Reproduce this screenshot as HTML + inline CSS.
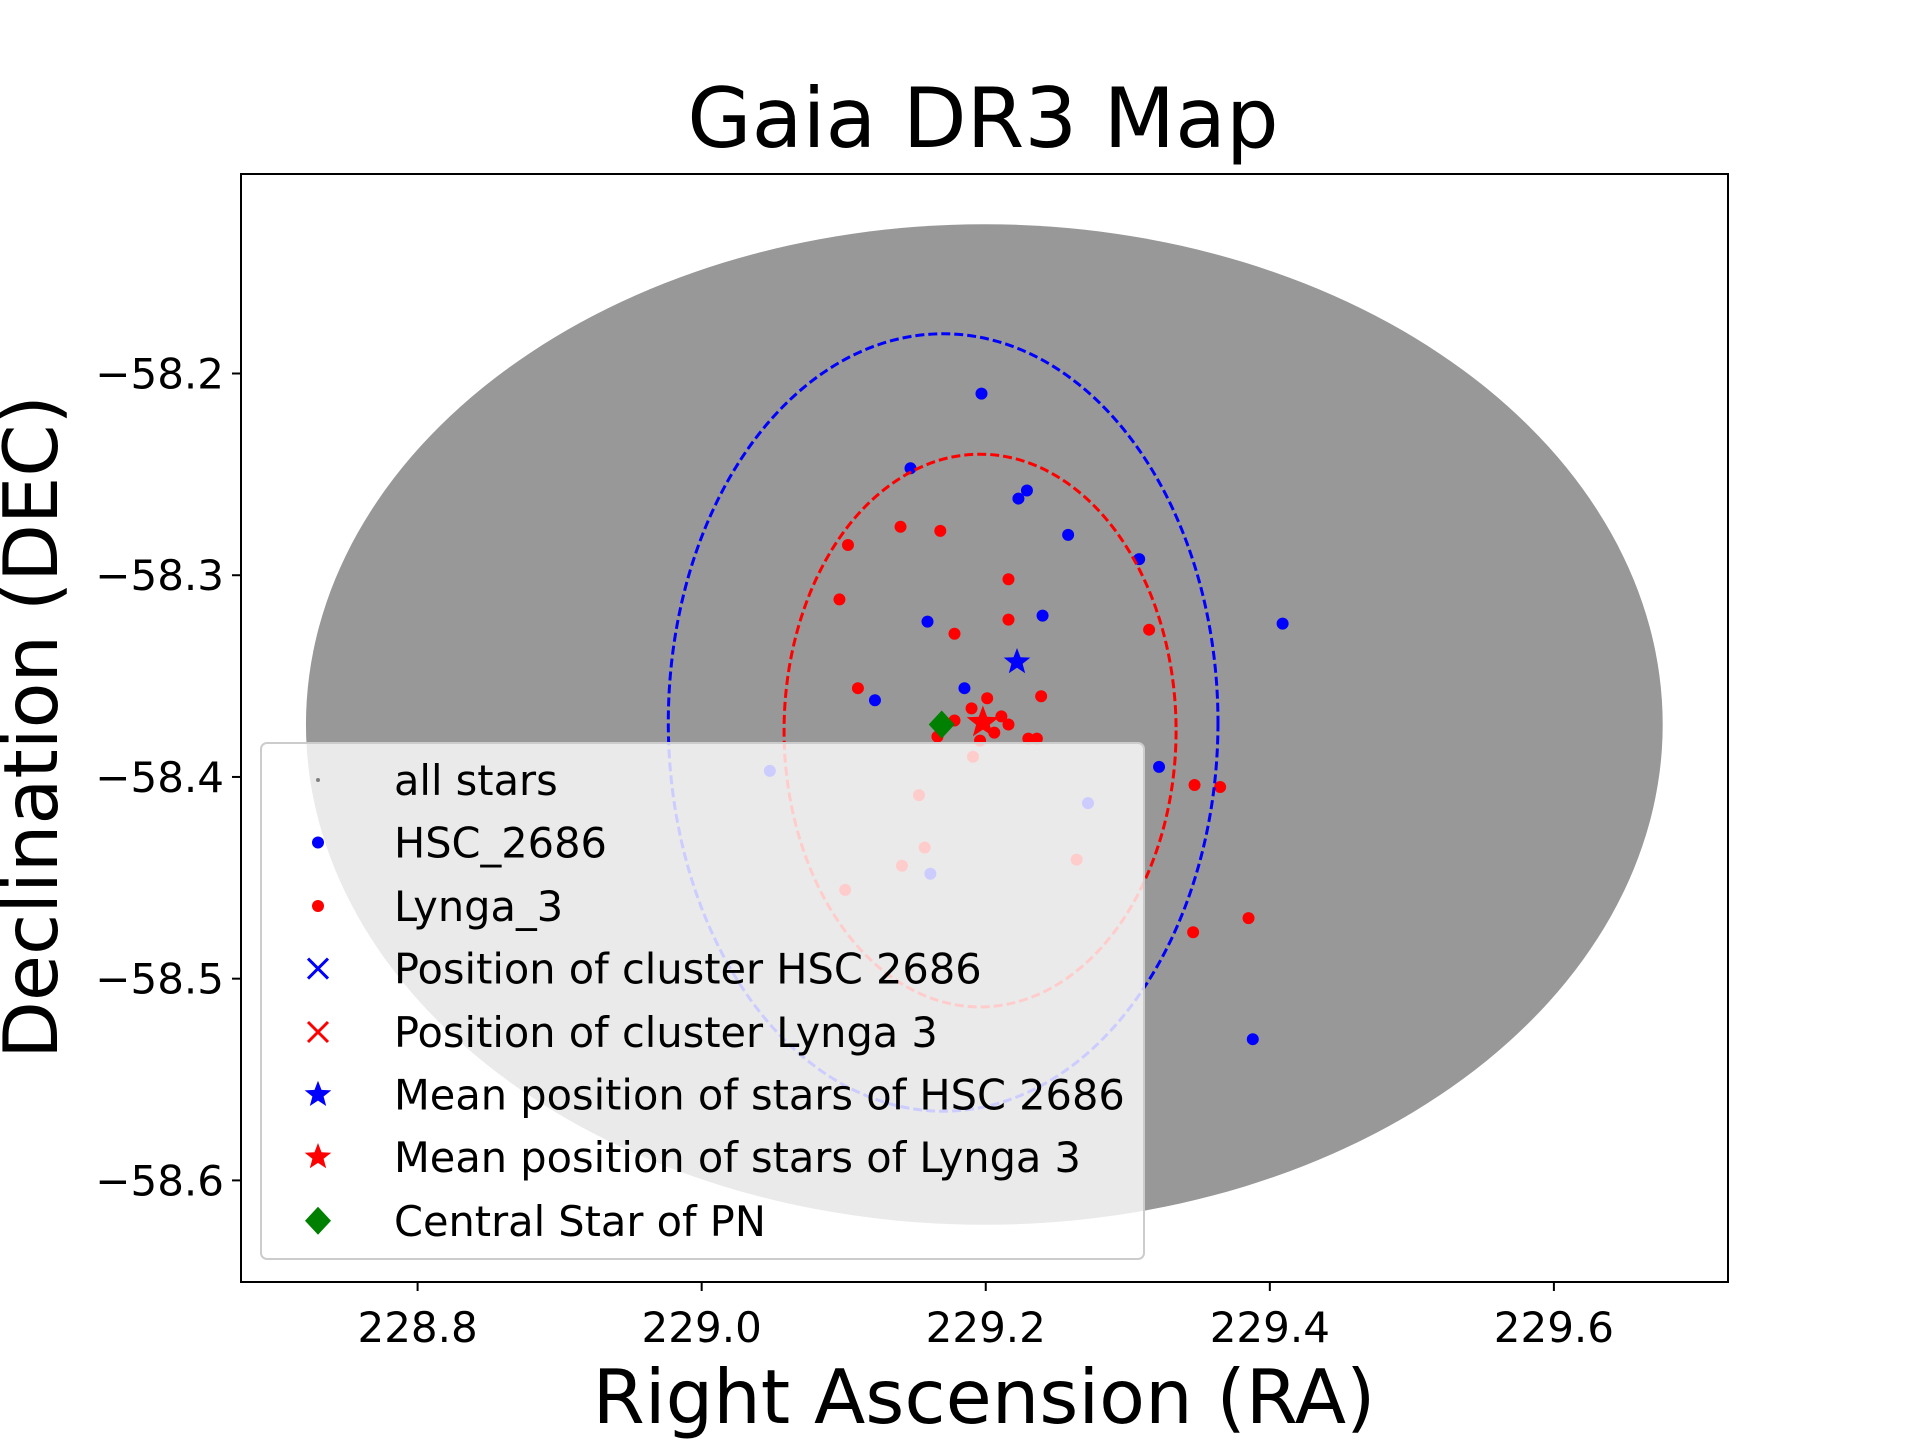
<!DOCTYPE html>
<html><head><meta charset="utf-8"><style>
html,body{margin:0;padding:0;background:#fff;}
svg{display:block;font-family:"DejaVu Sans","Liberation Sans",sans-serif;}
</style></head><body>
<svg id="chart" width="1920" height="1440" viewBox="0 0 1920 1440" xmlns="http://www.w3.org/2000/svg">
<rect width="1920" height="1440" fill="#fff"/>
<text x="983" y="147" font-size="83" text-anchor="middle">Gaia DR3 Map</text>
<g id="plot"></g>
<rect x="241" y="174" width="1487" height="1108" fill="none" stroke="#000" stroke-width="2"/>
<g id="ticks"></g>
<text x="984" y="1423" font-size="75" text-anchor="middle">Right Ascension (RA)</text>
<text transform="translate(57,727) rotate(-90)" font-size="75" text-anchor="middle">Declination (DEC)</text>
<g id="legend"></g>
</svg>
<script>
const xTicks=[228.8,229.0,229.2,229.4,229.6];
const yTicks=[-58.2,-58.3,-58.4,-58.5,-58.6];
const fieldCenter=[229.199,-58.374];
const fieldRadius=[0.4776,0.248];
const hscCircleCenter=[229.17,-58.373];
const hscCircleRadius=[0.1935,0.1927];
const lyngaCircleCenter=[229.196,-58.377];
const lyngaCircleRadius=[0.138,0.137];
const hscRA=[229.197,229.147,229.229,229.223,229.258,229.308,229.409,229.159,229.240,229.185,229.122,229.322,229.388,229.048,229.272,229.161];
const hscDEC=[-58.210,-58.247,-58.258,-58.262,-58.280,-58.292,-58.324,-58.323,-58.320,-58.356,-58.362,-58.395,-58.530,-58.397,-58.413,-58.448];
const lyngaRA=[229.103,229.140,229.168,229.097,229.216,229.216,229.178,229.315,229.110,229.239,229.347,229.365,229.385,229.346,229.190,229.201,229.178,229.216,229.230,229.236,229.206,229.166,229.196,229.211,229.191,229.153,229.157,229.141,229.101,229.264];
const lyngaDEC=[-58.285,-58.276,-58.278,-58.312,-58.302,-58.322,-58.329,-58.327,-58.356,-58.360,-58.404,-58.405,-58.470,-58.477,-58.366,-58.361,-58.372,-58.374,-58.381,-58.381,-58.378,-58.380,-58.382,-58.370,-58.390,-58.409,-58.435,-58.444,-58.456,-58.441];
const hscMean=[229.222,-58.343];
const lyngaMean=[229.198,-58.373];
const pnStar=[229.169,-58.374];
const legendLabels=["all stars","HSC_2686","Lynga_3","Position of cluster HSC 2686","Position of cluster Lynga 3","Mean position of stars of HSC 2686","Mean position of stars of Lynga 3","Central Star of PN"];

const NS="http://www.w3.org/2000/svg";
const x0=417.6,x1=1553.9,y0=373.5,y1=1180.4;
function sx(v){return x0+(v-228.8)/0.8*(x1-x0);}
function sy(v){return y0+(-58.2-v)/0.4*(y1-y0);}
function mk(tag,attrs,parent){const e=document.createElementNS(NS,tag);for(const k in attrs)e.setAttribute(k,attrs[k]);parent.appendChild(e);return e;}
function starPts(cx,cy,r){let p=[];for(let i=0;i<10;i++){const a=-Math.PI/2+i*Math.PI/5;const rr=i%2?r*0.42:r;p.push((cx+rr*Math.cos(a)).toFixed(1)+","+(cy+rr*Math.sin(a)).toFixed(1));}return p.join(" ");}
const plot=document.getElementById('plot');
const field=mk('ellipse',{cx:sx(fieldCenter[0]),cy:sy(fieldCenter[1]),rx:sx(fieldCenter[0]+fieldRadius[0])-sx(fieldCenter[0]),ry:sy(fieldCenter[1]-fieldRadius[1])-sy(fieldCenter[1]),fill:'#989898'},plot);


hscRA.forEach((r,i)=>{const c=mk('circle',{cx:sx(r),cy:sy(hscDEC[i]),r:6,fill:'#0000ff'},plot);

});
lyngaRA.forEach((r,i)=>{const c=mk('circle',{cx:sx(r),cy:sy(lyngaDEC[i]),r:6,fill:'#ff0000'},plot);

});
const hc=mk('ellipse',{cx:sx(hscCircleCenter[0]),cy:sy(hscCircleCenter[1]),rx:sx(hscCircleCenter[0]+hscCircleRadius[0])-sx(hscCircleCenter[0]),ry:sy(hscCircleCenter[1]-hscCircleRadius[1])-sy(hscCircleCenter[1]),fill:'none',stroke:'#0000ff','stroke-width':3,'stroke-dasharray':'9,4'},plot);


const lc=mk('ellipse',{cx:sx(lyngaCircleCenter[0]),cy:sy(lyngaCircleCenter[1]),rx:sx(lyngaCircleCenter[0]+lyngaCircleRadius[0])-sx(lyngaCircleCenter[0]),ry:sy(lyngaCircleCenter[1]-lyngaCircleRadius[1])-sy(lyngaCircleCenter[1]),fill:'none',stroke:'#ff0000','stroke-width':3,'stroke-dasharray':'9,4'},plot);


const hs=mk('polygon',{points:starPts(sx(hscMean[0]),sy(hscMean[1]),14),fill:'#0000ff'},plot);


const ls=mk('polygon',{points:starPts(sx(lyngaMean[0]),sy(lyngaMean[1]),17),fill:'#ff0000'},plot);


const px=sx(pnStar[0]),py=sy(pnStar[1]);
const pd=mk('polygon',{points:`${px},${py-14} ${px+13},${py} ${px},${py+14} ${px-13},${py}`,fill:'#008000'},plot);



const ticks=document.getElementById('ticks');
xTicks.forEach(t=>{const x=sx(t);
const l=mk('line',{x1:x,x2:x,y1:1282,y2:1291,stroke:'#000','stroke-width':2},ticks);


const tx=mk('text',{x:x,y:1342,'font-size':42,'text-anchor':'middle'},ticks);tx.textContent=t.toFixed(1);

});
yTicks.forEach(t=>{const y=sy(t);
const l=mk('line',{x1:232,x2:241,y1:y,y2:y,stroke:'#000','stroke-width':2},ticks);


const tx=mk('text',{x:224,y:y+15,'font-size':42,'text-anchor':'end'},ticks);tx.textContent='\u2212'+Math.abs(t).toFixed(1);

});

const lg=document.getElementById('legend');


mk('rect',{x:261,y:743,width:883,height:516,rx:6,fill:'#fff','fill-opacity':0.8,stroke:'#cccccc','stroke-width':2},lg);
const ly=[780,842.5,906,968.6,1032,1094.7,1157,1220.8];
legendLabels.forEach((lab,i)=>{const y=ly[i],mx=318;
const g=mk('g',{},lg);


if(i==0)mk('circle',{cx:mx,cy:y,r:2,fill:'#808080'},g);
else if(i==1)mk('circle',{cx:mx,cy:y,r:6,fill:'#0000ff'},g);
else if(i==2)mk('circle',{cx:mx,cy:y,r:6,fill:'#ff0000'},g);
else if(i==3||i==4){const c=i==3?'#0000ff':'#ff0000';mk('path',{d:`M${mx-10},${y-10}L${mx+10},${y+10}M${mx-10},${y+10}L${mx+10},${y-10}`,stroke:c,'stroke-width':3},g);}
else if(i==5||i==6)mk('polygon',{points:starPts(mx,y,14),fill:i==5?'#0000ff':'#ff0000'},g);
else mk('polygon',{points:`${mx},${y-14} ${mx+13},${y} ${mx},${y+14} ${mx-13},${y}`,fill:'#008000'},g);
const t=mk('text',{x:394,y:y+15,'font-size':41.5},g);t.textContent=lab;});
</script>
</body></html>
